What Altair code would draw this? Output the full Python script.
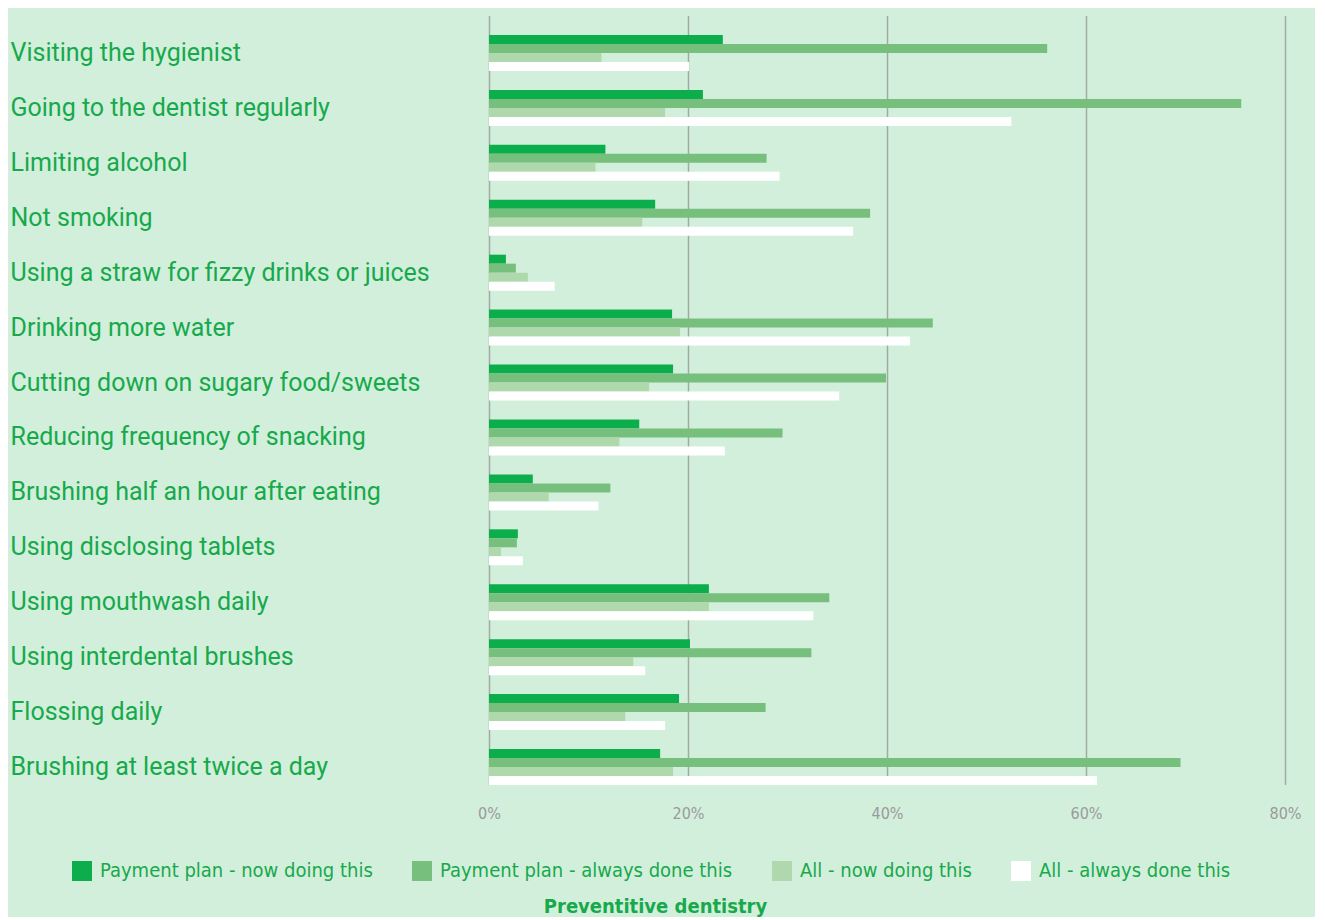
import altair as alt
import pandas as pd

categories = [
    "Visiting the hygienist",
    "Going to the dentist regularly",
    "Limiting alcohol",
    "Not smoking",
    "Using a straw for fizzy drinks or juices",
    "Drinking more water",
    "Cutting down on sugary food/sweets",
    "Reducing frequency of snacking",
    "Brushing half an hour after eating",
    "Using disclosing tablets",
    "Using mouthwash daily",
    "Using interdental brushes",
    "Flossing daily",
    "Brushing at least twice a day",
]

series_names = [
    "Payment plan - now doing this",
    "Payment plan - always done this",
    "All - now doing this",
    "All - always done this",
]

pp_now = [23.5, 21.5, 11.7, 16.7, 1.7, 18.4, 18.5, 15.1, 4.4, 2.9, 22.1, 20.2, 19.1, 17.2]
pp_always = [56.1, 75.6, 27.9, 38.3, 2.7, 44.6, 39.9, 29.5, 12.2, 2.8, 34.2, 32.4, 27.8, 69.5]
all_now = [11.3, 17.7, 10.7, 15.4, 3.9, 19.2, 16.1, 13.1, 6.0, 1.2, 22.1, 14.5, 13.7, 18.5]
all_always = [20.1, 52.5, 29.2, 36.6, 6.6, 42.3, 35.2, 23.7, 11.0, 3.4, 32.6, 15.7, 17.7, 61.1]

colors = ["#0bae4a", "#77bf7c", "#b0d8ad", "#ffffff"]
x_ticks = [0, 20, 40, 60, 80]

rows = []
for name, vals in zip(series_names, [pp_now, pp_always, all_now, all_always]):
    for c, v in zip(categories, vals):
        rows.append({"category": c, "series": name, "value": v})
df = pd.DataFrame(rows)

green = "#17a94b"
narrow = "Liberation Sans Narrow, DejaVu Sans Condensed, sans-serif"

chart = (
    alt.Chart(df)
    .mark_bar()
    .encode(
        x=alt.X(
            "value:Q",
            scale=alt.Scale(domain=[0, 80], nice=False),
            axis=alt.Axis(
                title=None,
                values=x_ticks,
                labelExpr="datum.value + '%'",
                grid=True,
                gridColor="#a3aaa3",
                gridWidth=1.5,
                domain=False,
                ticks=False,
                labelFlush=False,
                labelFont=narrow,
                labelFontSize=16,
                labelColor="#9a9a9a",
                labelPadding=8,
            ),
        ),
        y=alt.Y(
            "category:N",
            sort=categories,
            scale=alt.Scale(range=[12.5, 781.5], paddingInner=0.3445, paddingOuter=0.1722),
            axis=alt.Axis(
                title=None,
                labelAlign="left",
                labelPadding=479,
                labelLimit=470,
                labelFont="Roboto",
                labelFontSize=25,
                labelColor=green,
                ticks=False,
                tickSize=0,
                domain=False,
                grid=False,
            ),
        ),
        yOffset=alt.YOffset(
            "series:N",
            sort=series_names,
            scale=alt.Scale(domain=series_names, paddingInner=0, paddingOuter=0),
        ),
        color=alt.Color(
            "series:N",
            sort=series_names,
            scale=alt.Scale(domain=series_names, range=colors),
            legend=alt.Legend(
                orient="none",
                legendX=-417,
                legendY=848,
                direction="horizontal",
                title=None,
                symbolType="square",
                symbolSize=400,
                symbolStrokeWidth=0,
                symbolOpacity=1,
                labelFont=narrow,
                labelFontSize=20,
                labelColor=green,
                labelOffset=8,
                columnPadding=39,
                labelLimit=400,
            ),
        ),
    )
    .properties(
        width=796,
        height=784,
        background="#d2efdc",
        padding={"left": 2, "top": 5, "right": 14, "bottom": 0},
        title=alt.TitleParams(
            "Preventitive dentistry",
            orient="bottom",
            anchor="middle",
            frame="bounds",
            fontSize=20,
            font=narrow,
            fontWeight="bold",
            color=green,
            offset=16,
        ),
    )
    .configure_view(stroke=None)
)

chart.save("out.html", embed_options={"renderer": "svg", "actions": False})
